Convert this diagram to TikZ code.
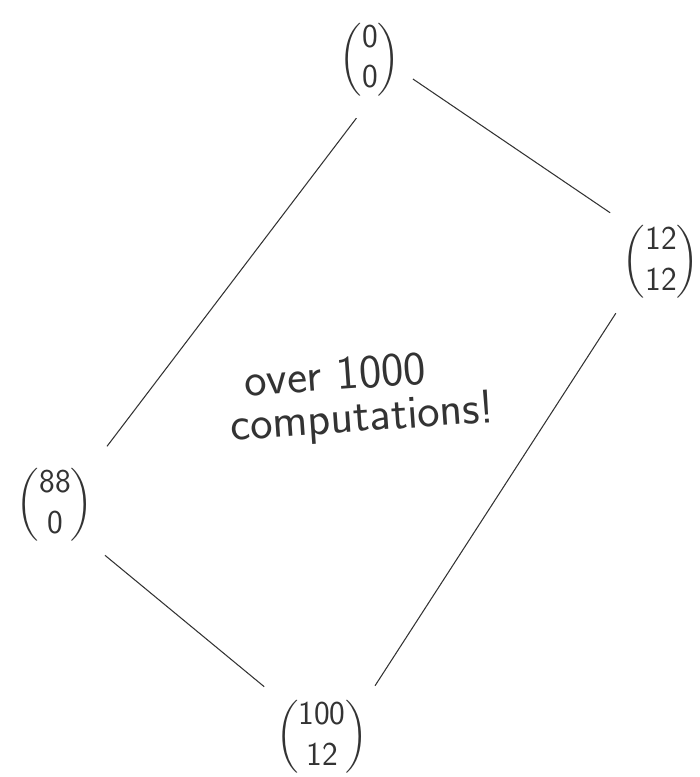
\documentclass[tikz,border=0pt]{standalone}
\usepackage{amsmath}
\usetikzlibrary{positioning}
\definecolor{pencil}{HTML}{333333}
\newcommand{\vc}[2]{$\begin{pmatrix}\textsf{#1}\\\textsf{#2}\end{pmatrix}$}

\begin{document}
\begin{tikzpicture}[vec/.style={inner sep=0pt,font=\fontsize{19}{23}\selectfont,text=pencil},
  edge/.style={pencil,line width=.6pt,shorten <=#1,shorten >=#1},
  note/.style={font=\fontsize{27}{31}\selectfont\sffamily,text=pencil,rotate=4,inner sep=0pt}]
\useasboundingbox (0,0) rectangle (13.98,15.54);
\node[vec] (top) at (7.4,14.35) {\vc{0}{0}};
\node[vec] (right) at (13.22,10.3) {\vc{12}{12}};
\node[vec] (left) at (1.1,5.44) {\vc{88}{0}};
\node[vec] (bottom) at (6.44,0.8) {\vc{100}{12}};
\node[note] (over) at (6.7,8.05) {over 1000};
\node[note] (comp) at (7.25,7.15) {computations!};
\draw[edge=.45cm] (top.south) -- (left.north east);
\draw[edge=.3cm] (top.-20) -- (right.north west);
\draw[edge=.25cm] (right.south west) -- (bottom.north east);
\draw[edge=.3cm] (left.south east) -- (bottom.north west);
\end{tikzpicture}
\end{document}
